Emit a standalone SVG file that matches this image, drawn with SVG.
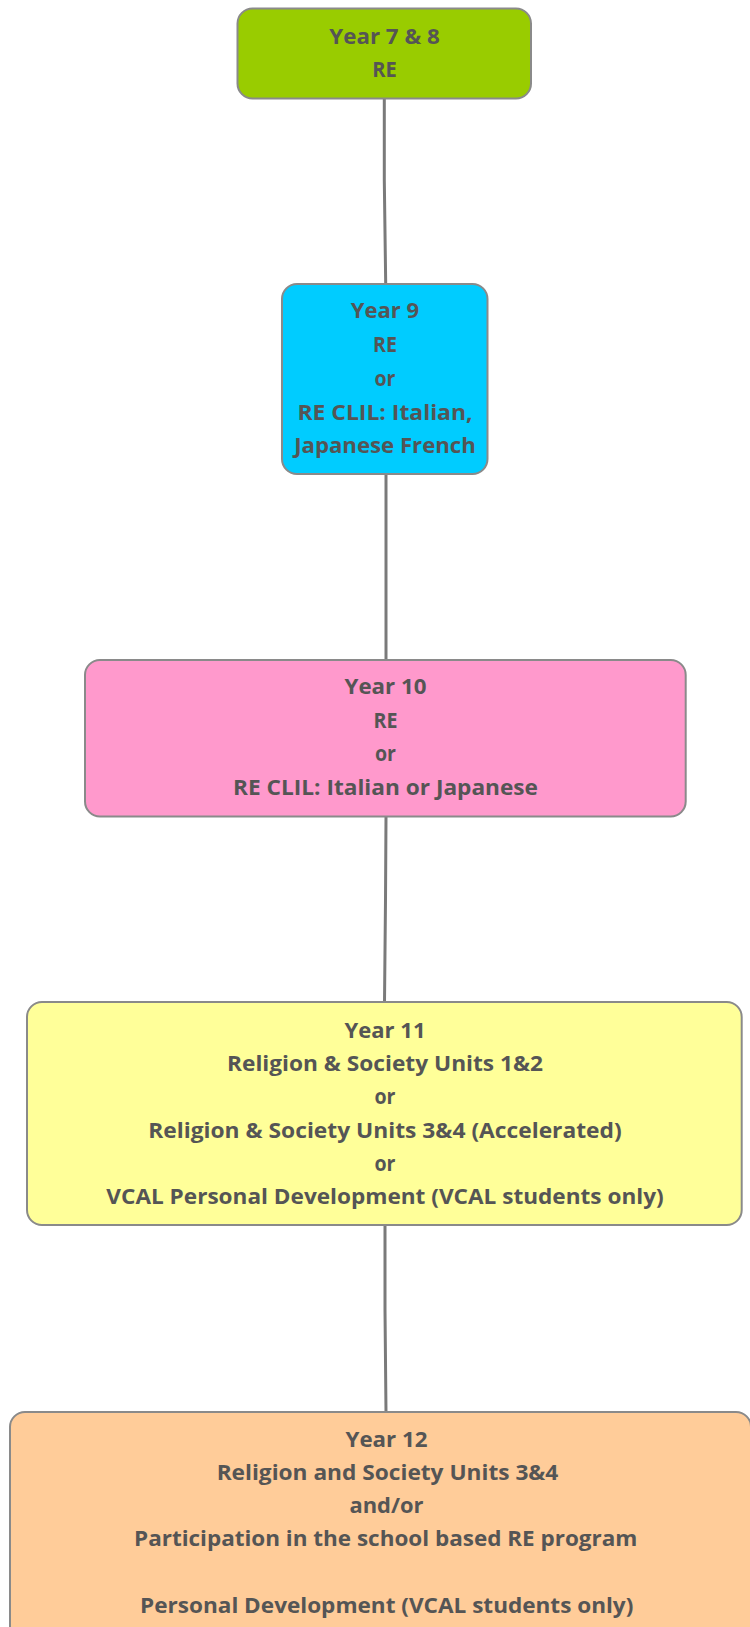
<svg xmlns="http://www.w3.org/2000/svg" width="750" height="1627" viewBox="0 0 750 1627">
  <style>
    .box { stroke: #8a8a8a; stroke-width: 2; }
    .t { font-family: "Open Sans", "Noto Sans", "Liberation Sans", sans-serif; font-weight: bold; font-size: 22px; fill: #555555; text-anchor: middle; }
    .conn { stroke: #7a7a7a; stroke-width: 3; fill: none; }
  </style>
  <rect width="750" height="1627" fill="#ffffff"/>
  <g id="connectors">
    <path class="conn" d="M384.3 98 L384.3 180 L385.7 284"/>
    <path class="conn" d="M386 474 L386 660"/>
    <path class="conn" d="M386 817 L385.5 900 L384.5 1002"/>
    <path class="conn" d="M385 1225 L385 1310 L386 1412"/>
  </g>
  <g id="node-year78">
    <rect class="box" x="237.5" y="8.5" width="293.5" height="90" rx="15" fill="#99cc00"/>
    <text class="t" x="384.5" y="44.3" textLength="110.5" lengthAdjust="spacingAndGlyphs">Year 7 &amp; 8</text>
    <text class="t" x="384.5" y="77.3" textLength="24.5" lengthAdjust="spacingAndGlyphs">RE</text>
  </g>
  <g id="node-year9">
    <rect class="box" x="282" y="284" width="205.5" height="190" rx="15" fill="#00ccff"/>
    <text class="t" x="385" y="318" textLength="68.3" lengthAdjust="spacingAndGlyphs">Year 9</text>
    <text class="t" x="385" y="352" textLength="24" lengthAdjust="spacingAndGlyphs">RE</text>
    <text class="t" x="385" y="386" textLength="21" lengthAdjust="spacingAndGlyphs">or</text>
    <text class="t" x="385" y="419.7" textLength="175" lengthAdjust="spacingAndGlyphs">RE CLIL: Italian,</text>
    <text class="t" x="385" y="453" textLength="181.7" lengthAdjust="spacingAndGlyphs">Japanese French</text>
  </g>
  <g id="node-year10">
    <rect class="box" x="85" y="660" width="600.7" height="156.5" rx="15" fill="#ff99cc"/>
    <text class="t" x="385.5" y="694" textLength="82" lengthAdjust="spacingAndGlyphs">Year 10</text>
    <text class="t" x="385.5" y="727.5" textLength="24" lengthAdjust="spacingAndGlyphs">RE</text>
    <text class="t" x="385.5" y="761" textLength="21" lengthAdjust="spacingAndGlyphs">or</text>
    <text class="t" x="385.5" y="794.5" textLength="305" lengthAdjust="spacingAndGlyphs">RE CLIL: Italian or Japanese</text>
  </g>
  <g id="node-year11">
    <rect class="box" x="27" y="1002" width="714.7" height="223" rx="15" fill="#ffff99"/>
    <text class="t" x="385" y="1037.8" textLength="81" lengthAdjust="spacingAndGlyphs">Year 11</text>
    <text class="t" x="385" y="1071" textLength="316" lengthAdjust="spacingAndGlyphs">Religion &amp; Society Units 1&amp;2</text>
    <text class="t" x="385" y="1104.4" textLength="21" lengthAdjust="spacingAndGlyphs">or</text>
    <text class="t" x="385" y="1137.7" textLength="473.4" lengthAdjust="spacingAndGlyphs">Religion &amp; Society Units 3&amp;4 (Accelerated)</text>
    <text class="t" x="385" y="1171" textLength="21" lengthAdjust="spacingAndGlyphs">or</text>
    <text class="t" x="385" y="1204" textLength="557.3" lengthAdjust="spacingAndGlyphs">VCAL Personal Development (VCAL students only)</text>
  </g>
  <g id="node-year12">
    <rect class="box" x="10" y="1412" width="741" height="232" rx="15" fill="#ffcc99"/>
    <text class="t" x="386.5" y="1446.7" textLength="82" lengthAdjust="spacingAndGlyphs">Year 12</text>
    <text class="t" x="387.5" y="1480" textLength="341.7" lengthAdjust="spacingAndGlyphs">Religion and Society Units 3&amp;4</text>
    <text class="t" x="386.5" y="1513" textLength="74" lengthAdjust="spacingAndGlyphs">and/or</text>
    <text class="t" x="385.7" y="1546" textLength="503.3" lengthAdjust="spacingAndGlyphs">Participation in the school based RE program</text>
    <text class="t" x="386.7" y="1612.7" textLength="493.3" lengthAdjust="spacingAndGlyphs">Personal Development (VCAL students only)</text>
  </g>
</svg>
